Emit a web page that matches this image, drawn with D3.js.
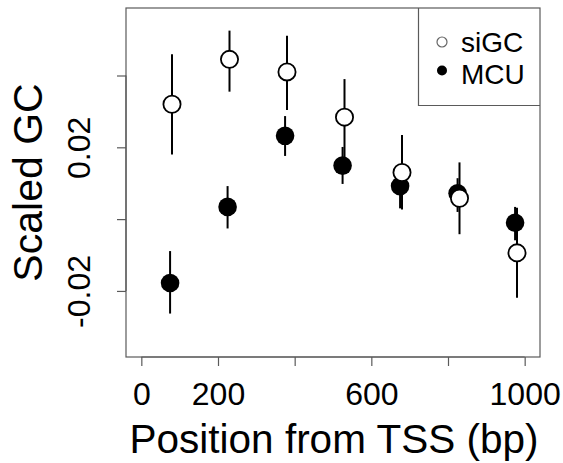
<!DOCTYPE html>
<html>
<head>
<meta charset="utf-8">
<script src="https://cdn.jsdelivr.net/npm/d3@7/dist/d3.min.js"></script>
<style>
  html, body { margin: 0; padding: 0; background: #fff; }
  svg { display: block; font-family: "Liberation Sans", Arial, sans-serif; }
</style>
</head>
<body>
<svg id="chart" width="563" height="463"></svg>
<script>
// Bin positions (bp from TSS); siGC is nudged right so the two series don't overlap
const posMCU  = [75, 225, 375, 525, 675, 825, 975];
const posSiGC = [80, 230, 380, 530, 680, 830, 980];

// Scaled GC: mean and lower / upper interval per bin
const siGCMean = [0.0320, 0.0445, 0.0410, 0.0284, 0.0130, 0.0058, -0.0094];
const siGCLo   = [0.0180, 0.0355, 0.0304, 0.0173, 0.0027, -0.0042, -0.0219];
const siGCHi   = [0.0459, 0.0525, 0.0511, 0.0390, 0.0234, 0.0158, 0.0032];

const mcuMean = [-0.0178, 0.0034, 0.0232, 0.0149, 0.0092, 0.0072, -0.0010];
const mcuLo   = [-0.0263, -0.0026, 0.0176, 0.0098, 0.0030, 0.0020, -0.0059];
const mcuHi   = [-0.0089, 0.0092, 0.0287, 0.0201, 0.0150, 0.0114, 0.0034];

// Axis ticks; only some ticks carry labels
const xTicks = [0, 200, 400, 600, 800, 1000];
const xTickLabels = ["0", "200", "", "600", "", "1000"];
const yTicks = [-0.02, 0, 0.02, 0.04];
const yTickLabels = ["-0.02", "", "0.02", ""];

const seriesNames = ["siGC", "MCU"];

const svg = d3.select("#chart");
const box = { left: 126, right: 540, top: 8, bottom: 357 };

const x = d3.scaleLinear().domain([-40, 1040]).range([box.left, box.right]);
const y = d3.scaleLinear().domain([-0.0384, 0.0588]).range([box.bottom, box.top]);

// Plot frame
svg.append("rect")
  .attr("x", box.left).attr("y", box.top)
  .attr("width", box.right - box.left).attr("height", box.bottom - box.top)
  .attr("fill", "none").attr("stroke", "#5a5a5a").attr("stroke-width", 1.2);

// X axis (ticks hang below the frame)
const xAxis = d3.axisBottom(x).tickValues(xTicks)
  .tickFormat((d, i) => xTickLabels[i]).tickSize(9).tickPadding(4);
const gx = svg.append("g").attr("transform", `translate(0,${box.bottom})`).call(xAxis);
gx.select(".domain").attr("d", `M${x(0)},0H${x(1000)}`).attr("stroke", "#5a5a5a").attr("stroke-width", 1.2);
gx.selectAll(".tick line").attr("stroke", "#5a5a5a").attr("stroke-width", 1.2);
gx.selectAll(".tick text").attr("font-size", 32).attr("fill", "#000")
  .attr("dy", null).attr("y", 48);

// Y axis with rotated tick labels
const yAxis = d3.axisLeft(y).tickValues(yTicks)
  .tickFormat((d, i) => yTickLabels[i]).tickSize(9);
const gy = svg.append("g").attr("transform", `translate(${box.left},0)`).call(yAxis);
gy.select(".domain").attr("d", `M0,${y(-0.02)}V${y(0.04)}`).attr("stroke", "#5a5a5a").attr("stroke-width", 1.2);
gy.selectAll(".tick line").attr("stroke", "#5a5a5a").attr("stroke-width", 1.2);
gy.selectAll(".tick text").attr("font-size", 32).attr("fill", "#000")
  .attr("x", null).attr("dy", null)
  .attr("text-anchor", "middle")
  .attr("transform", "translate(-36,0) rotate(-90)");

// Axis titles
svg.append("text")
  .attr("x", (box.left + box.right) / 2 + 1).attr("y", 453)
  .attr("text-anchor", "middle").attr("font-size", 40.5)
  .text("Position from TSS (bp)");
svg.append("text")
  .attr("transform", `translate(42,${(box.top + box.bottom) / 2}) rotate(-90)`)
  .attr("text-anchor", "middle").attr("font-size", 41)
  .text("Scaled GC");

function drawSeries(pos, mean, lo, hi, filled) {
  const g = svg.append("g");
  g.selectAll("line").data(pos).join("line")
    .attr("x1", d => x(d)).attr("x2", d => x(d))
    .attr("y1", (d, i) => y(lo[i])).attr("y2", (d, i) => y(hi[i]))
    .attr("stroke", "#000").attr("stroke-width", 2);
  g.selectAll("circle").data(pos).join("circle")
    .attr("cx", d => x(d)).attr("cy", (d, i) => y(mean[i]))
    .attr("r", filled ? 9.3 : 8.6)
    .attr("fill", filled ? "#000" : "#fff")
    .attr("stroke", "#000").attr("stroke-width", filled ? 0 : 1.8);
}

drawSeries(posMCU, mcuMean, mcuLo, mcuHi, true);
drawSeries(posSiGC, siGCMean, siGCLo, siGCHi, false);

// Legend in the top-right corner
const lg = svg.append("g");
lg.append("path")
  .attr("d", `M418.5,${box.top}V105.5H${box.right}`)
  .attr("fill", "none").attr("stroke", "#5a5a5a").attr("stroke-width", 1.2);
seriesNames.forEach((name, i) => {
  const cy = [42, 70.5][i];
  lg.append("circle").attr("cx", 442).attr("cy", cy).attr("r", 5)
    .attr("fill", i === 0 ? "#fff" : "#000")
    .attr("stroke", i === 0 ? "#666" : "#000").attr("stroke-width", i === 0 ? 1.2 : 0);
  lg.append("text").attr("x", 461).attr("y", [52, 83.5][i])
    .attr("font-size", 28).text(name);
});
</script>
</body>
</html>
